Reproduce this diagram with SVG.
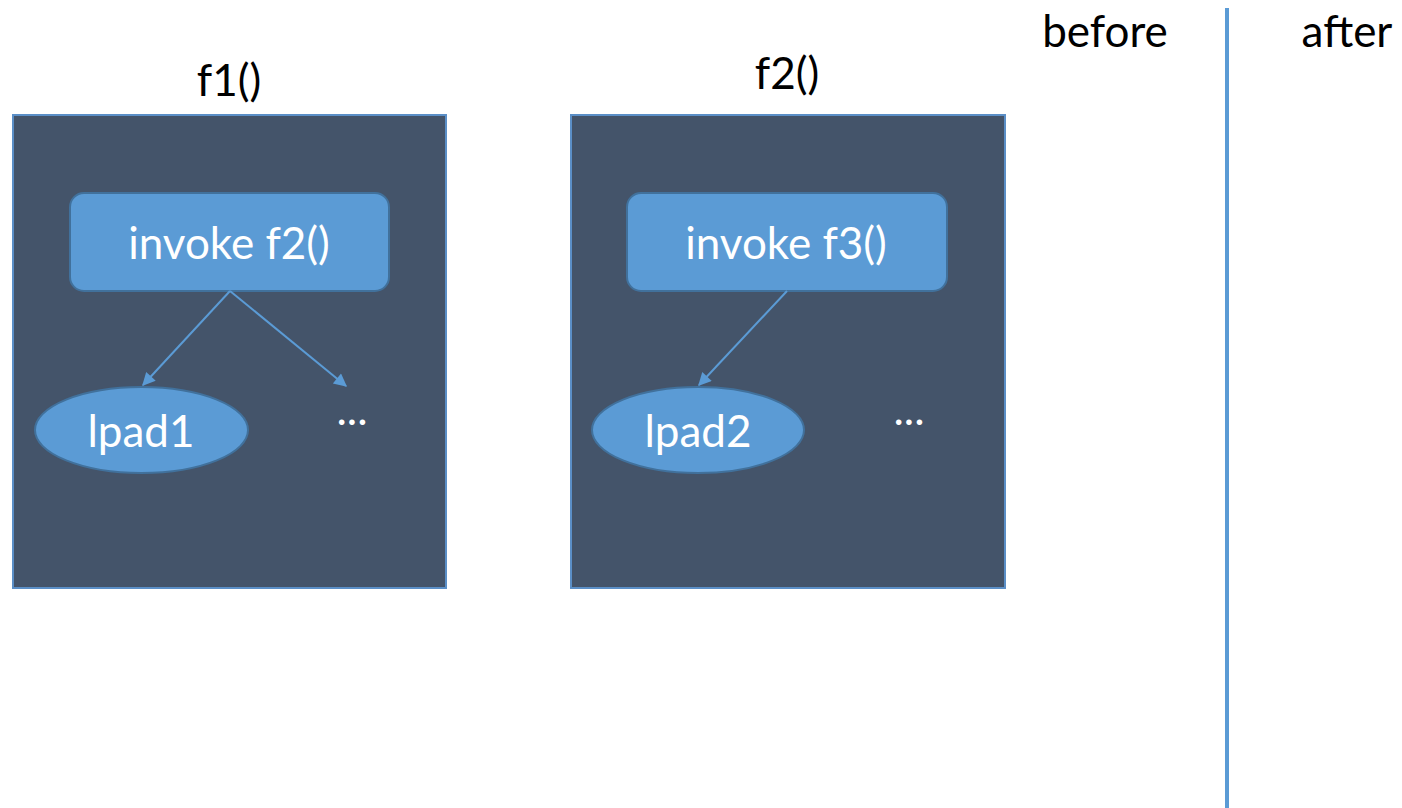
<svg xmlns="http://www.w3.org/2000/svg" width="1402" height="808" viewBox="0 0 1402 808">
<defs>
<style>
.frame{fill:#44546A;stroke:#5B8FC7;stroke-width:2}
.blk{fill:#5B9BD5;stroke:#41719C;stroke-width:2}
.wt{fill:#FFFFFF;font-family:Lato,"Open Sans",sans-serif;font-size:44px;text-anchor:middle}
.bt{fill:#000000;font-family:Lato,"Open Sans",sans-serif;font-size:44px;text-anchor:middle}
.edge{stroke:#5B9BD5;stroke-width:2;fill:none;marker-end:url(#arr)}
</style>
<marker id="arr" viewBox="0 0 10 10" refX="9" refY="5" markerWidth="15" markerHeight="13" orient="auto" markerUnits="userSpaceOnUse">
<path d="M0,0 L10,5 L0,10 z" fill="#5B9BD5"/>
</marker>
</defs>
<rect width="1402" height="808" fill="#FFFFFF"/>
<g id="f1">
<text class="bt" x="229" y="96">f1()</text>
<rect class="frame" x="13" y="115" width="433" height="473"/>
</g>
<g id="f2">
<text class="bt" x="787" y="89">f2()</text>
<rect class="frame" x="571" y="115" width="434" height="473"/>
</g>
<g id="invoke1">
<rect class="blk" x="70" y="193" width="319" height="98" rx="14"/>
<text class="wt" x="229" y="259">invoke f2()</text>
</g>
<g id="lpad1">
<ellipse class="blk" cx="141.5" cy="430" rx="106.5" ry="43"/>
<text class="wt" x="141" y="447">lpad1</text>
</g>
<g id="dots1"><text class="wt" x="352" y="425">...</text></g>
<g id="invoke2">
<rect class="blk" x="627" y="193" width="320" height="98" rx="14"/>
<text class="wt" x="786" y="259">invoke f3()</text>
</g>
<g id="lpad2">
<ellipse class="blk" cx="698" cy="430" rx="106" ry="43"/>
<text class="wt" x="698" y="447">lpad2</text>
</g>
<g id="dots2"><text class="wt" x="909" y="425">...</text></g>
<g id="labels">
<text class="bt" x="1105" y="47">before</text>
<text class="bt" x="1347" y="47">after</text>
</g>
<g id="connectors">
<line class="edge" x1="230" y1="291" x2="143" y2="385"/>
<line class="edge" x1="230" y1="291" x2="346" y2="386"/>
<line class="edge" x1="787" y1="291" x2="699" y2="385"/>
<line x1="1227" y1="8" x2="1227" y2="808" stroke="#5B9BD5" stroke-width="4"/>
</g>
</svg>
